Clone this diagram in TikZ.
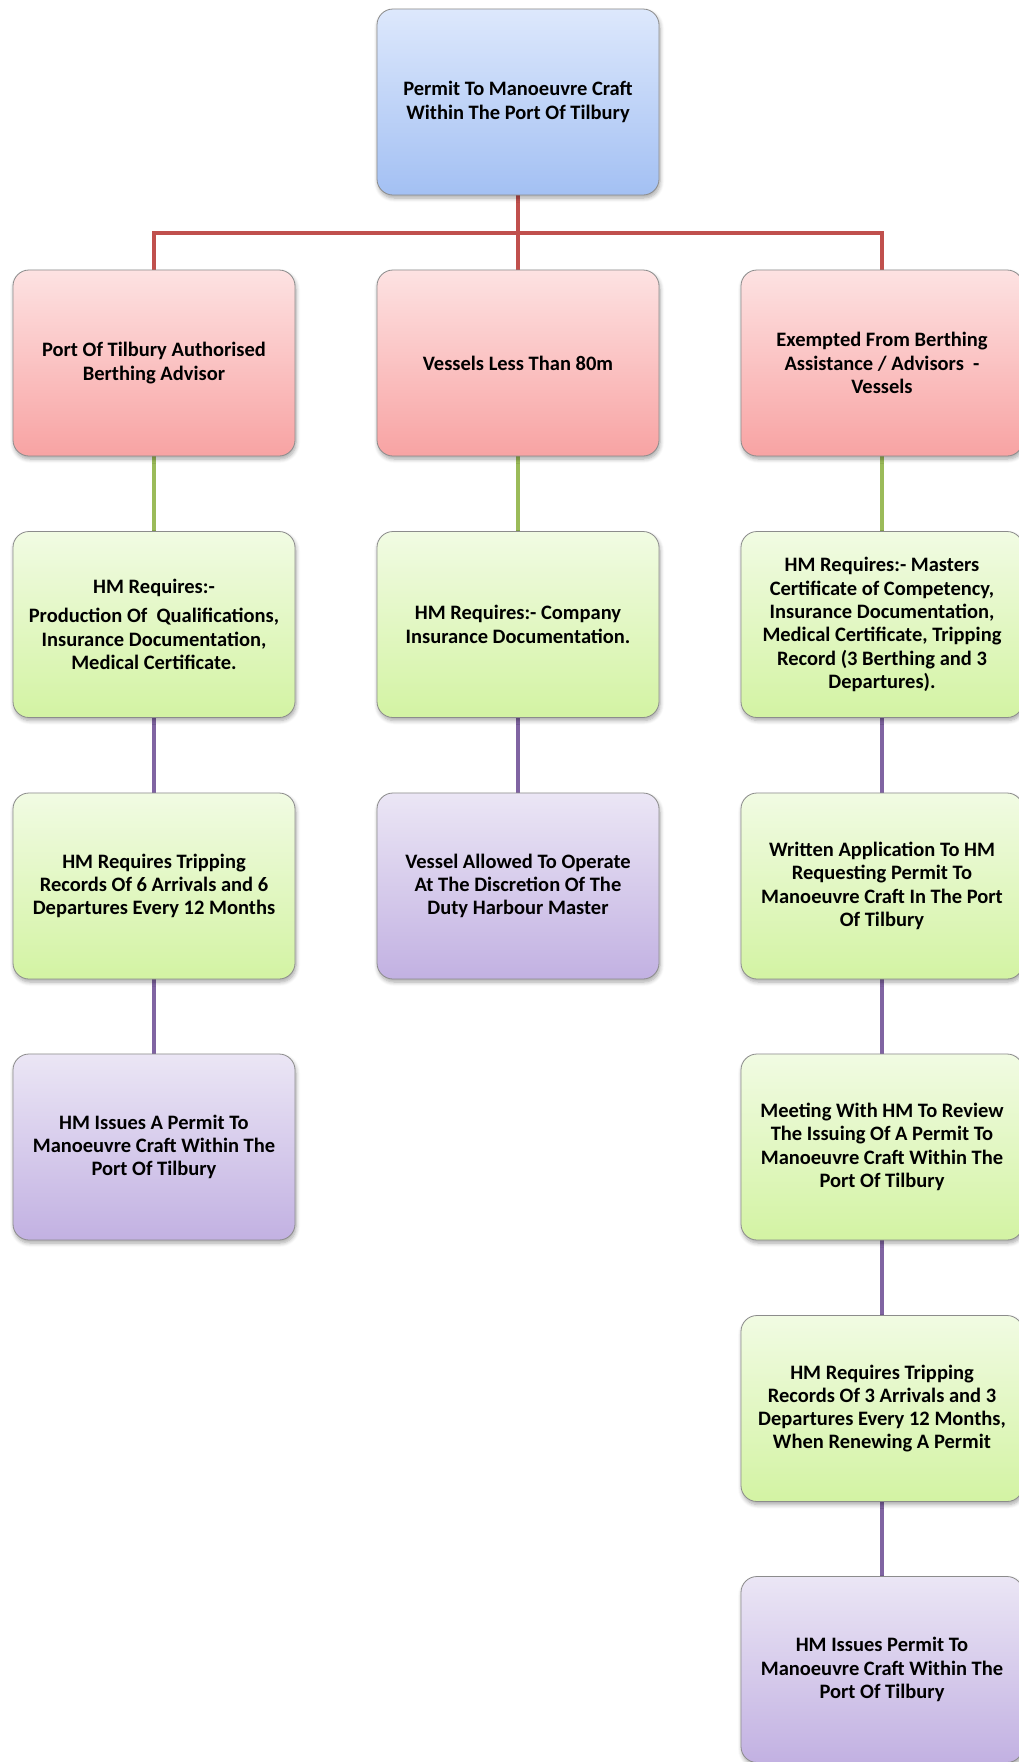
\documentclass[tikz,border=0pt]{standalone}
\usepackage{fontspec}
\setmainfont{Carlito}
\usetikzlibrary{shadows.blur,backgrounds}
\definecolor{bluetop}{HTML}{DDE8FC}
\definecolor{bluebot}{HTML}{A3C0F3}
\definecolor{redtop}{HTML}{FDE2E2}
\definecolor{redbot}{HTML}{F8A3A3}
\definecolor{greentop}{HTML}{F1FBE3}
\definecolor{greenbot}{HTML}{D3F3A3}
\definecolor{purptop}{HTML}{EBE6F5}
\definecolor{purpbot}{HTML}{C2B1E2}
\definecolor{linered}{HTML}{C0504D}
\definecolor{linegreen}{HTML}{9BBB59}
\definecolor{linepurple}{HTML}{8064A2}
\tikzset{
  box/.style={rectangle, rounded corners=16pt, minimum width=282pt, minimum height=186pt,
    draw=black!45, line width=0.8pt, align=center, inner sep=4pt,
    font=\bfseries\fontsize{20.5}{23.3}\selectfont,
    blur shadow={shadow xshift=1pt, shadow yshift=-3pt, shadow blur steps=6, shadow opacity=35, shadow blur radius=4pt}},
  bluebox/.style={box, top color=bluetop, bottom color=bluebot},
  redbox/.style={box, top color=redtop, bottom color=redbot},
  greenbox/.style={box, top color=greentop, bottom color=greenbot},
  purpbox/.style={box, top color=purptop, bottom color=purpbot},
  redline/.style={draw=linered, line width=4pt},
  greenline/.style={draw=linegreen, line width=4pt},
  purpline/.style={draw=linepurple, line width=4pt},
}
\begin{document}
\begin{tikzpicture}[x=1pt,y=-1pt]
\useasboundingbox (0,0) rectangle (1018,1762);
\node[bluebox] (top) at (518,102) {Permit To Manoeuvre Craft\\Within The Port Of Tilbury};
% row 1
\node[redbox] (a1) at (154,363) {Port Of Tilbury Authorised\\Berthing Advisor};
\node[redbox] (b1) at (518,363) {Vessels Less Than 80m};
\node[redbox] (c1) at (882,363) {Exempted From Berthing\\Assistance / Advisors~~-\\Vessels};
% row 2
\node[greenbox] (a2) at (154,624.5) {HM Requires:-\\[6pt]Production Of~~Qualifications,\\Insurance Documentation,\\Medical Certificate.};
\node[greenbox] (b2) at (518,624.5) {HM Requires:- Company\\Insurance Documentation.};
\node[greenbox] (c2) at (882,624.5) {HM Requires:- Masters\\Certificate of Competency,\\Insurance Documentation,\\Medical Certificate, Tripping\\Record (3 Berthing and 3\\Departures).};
% row 3
\node[greenbox] (a3) at (154,886) {HM Requires Tripping\\Records Of 6 Arrivals and 6\\Departures Every 12 Months};
\node[purpbox] (b3) at (518,886) {Vessel Allowed To Operate\\At The Discretion Of The\\Duty Harbour Master};
\node[greenbox] (c3) at (882,886) {Written Application To HM\\Requesting Permit To\\Manoeuvre Craft In The Port\\Of Tilbury};
% row 4
\node[purpbox] (a4) at (154,1147) {HM Issues A Permit To\\Manoeuvre Craft Within The\\Port Of Tilbury};
\node[greenbox] (c4) at (882,1147) {Meeting With HM To Review\\The Issuing Of A Permit To\\Manoeuvre Craft Within The\\Port Of Tilbury};
% row 5
\node[greenbox] (c5) at (882,1408.5) {HM Requires Tripping\\Records Of 3 Arrivals and 3\\Departures Every 12 Months,\\When Renewing A Permit};
% row 6
\node[purpbox] (c6) at (882,1669.5) {HM Issues Permit To\\Manoeuvre Craft Within The\\Port Of Tilbury};
\coordinate (hy) at (518,233);
\begin{pgfonlayer}{background}
\draw[redline] (top.south) -- (hy);
\draw[redline] (a1.north) |- (hy) -| (c1.north);
\draw[redline] (hy) -- (b1.north);
\draw[greenline] (a1.south) -- (a2.north);
\draw[greenline] (b1.south) -- (b2.north);
\draw[greenline] (c1.south) -- (c2.north);
\draw[purpline] (a2.south) -- (a3.north);
\draw[purpline] (a3.south) -- (a4.north);
\draw[purpline] (b2.south) -- (b3.north);
\draw[purpline] (c2.south) -- (c3.north);
\draw[purpline] (c3.south) -- (c4.north);
\draw[purpline] (c4.south) -- (c5.north);
\draw[purpline] (c5.south) -- (c6.north);
\end{pgfonlayer}
\end{tikzpicture}
\end{document}
